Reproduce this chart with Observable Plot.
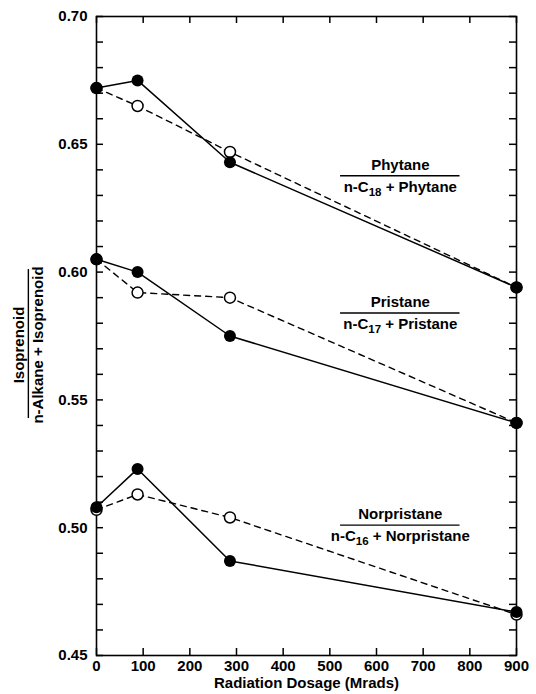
<!DOCTYPE html>
<html>
<head>
<meta charset="utf-8">
<script src="https://cdn.jsdelivr.net/npm/d3@7"></script>
<script src="https://cdn.jsdelivr.net/npm/@observablehq/plot@0.6"></script>
<style>
  html, body { margin: 0; padding: 0; background: #fff; }
  #chart svg { display: block; }
</style>
</head>
<body>
<div id="chart"></div>
<script>
// Radiation dose (Mrads) at which each sample was measured
const dose = [0, 88, 286, 900];

// Isoprenoid / (n-alkane + isoprenoid) ratios, solid line with filled circles
const phytaneSolid     = [0.672, 0.675, 0.643, 0.594];
const pristaneSolid    = [0.605, 0.600, 0.575, 0.541];
const norpristaneSolid = [0.508, 0.523, 0.487, 0.467];

// Same ratios, dashed line with open circles
const phytaneDashed     = [0.672, 0.665, 0.647, 0.594];
const pristaneDashed    = [0.605, 0.592, 0.590, 0.541];
const norpristaneDashed = [0.507, 0.513, 0.504, 0.466];

// Ratio labels: numerator compound and n-alkane carbon number
const ratioNames = ["Phytane", "Pristane", "Norpristane"];
const alkaneCarbons = ["18", "17", "16"];

// Axis ticks
const xTicks = [0, 100, 200, 300, 400, 500, 600, 700, 800, 900];
const yLabels = [0.45, 0.50, 0.55, 0.60, 0.65, 0.70];
const yMinor = d3.range(45, 71).map(d => d / 100);

const xTitle = "Radiation Dosage (Mrads)";
const yTitleTop = "Isoprenoid";
const yTitleBottom = "n-Alkane + Isoprenoid";

// Tidy rows for the marks
const series = [
  {ratio: "Phytane", run: "solid", values: phytaneSolid},
  {ratio: "Pristane", run: "solid", values: pristaneSolid},
  {ratio: "Norpristane", run: "solid", values: norpristaneSolid},
  {ratio: "Phytane", run: "dashed", values: phytaneDashed},
  {ratio: "Pristane", run: "dashed", values: pristaneDashed},
  {ratio: "Norpristane", run: "dashed", values: norpristaneDashed}
];
const rows = series.flatMap(s => s.values.map((v, i) => ({dose: dose[i], ratio: s.ratio, run: s.run, value: v})));
const solidRows = rows.filter(d => d.run === "solid");
const dashedRows = rows.filter(d => d.run === "dashed");

// Fraction labels placed beside each pair of curves (bar position in data units)
const labelBars = [0.6377, 0.584, 0.501];
const labels = ratioNames.map((name, i) => ({
  name,
  denom: `n-C${alkaneCarbons[i]} + ${name}`,
  bar: labelBars[i]
}));
const labelX = 651, barHalf = 128;

// plot area is 420 × 639 px; ticks are 7 px long and point inward
const tickLen = 7, frameW = 420, frameH = 639;

const chart = Plot.plot({
  width: 536,
  height: 694,
  marginTop: 16,
  marginLeft: 96,
  marginRight: 20,
  marginBottom: 39,
  style: {
    fontFamily: "'Liberation Sans', Arial, sans-serif",
    fontSize: "15px",
    fontWeight: "bold",
    color: "black",
    background: "white",
    overflow: "visible"
  },
  x: {domain: [0, 900], axis: null},
  y: {domain: [0.45, 0.70], axis: null},
  marks: [
    // inward ticks on all four sides
    Plot.tickY(yMinor, {y: d => d, insetRight: frameW - tickLen, stroke: "black", strokeWidth: 1.5}),
    Plot.tickY(yMinor, {y: d => d, insetLeft: frameW - tickLen, stroke: "black", strokeWidth: 1.5}),
    Plot.tickX(xTicks, {x: d => d, insetTop: frameH - tickLen, stroke: "black", strokeWidth: 1.5}),
    Plot.tickX(xTicks, {x: d => d, insetBottom: frameH - tickLen, stroke: "black", strokeWidth: 1.5}),
    // tick labels
    Plot.axisY(yLabels, {anchor: "left", tickSize: 0, tickPadding: 9, tickFormat: d3.format(".2f"), label: null}),
    Plot.axisX(xTicks, {anchor: "bottom", tickSize: 0, tickPadding: 5, tickFormat: d3.format("d"), label: null}),
    Plot.frame({stroke: "black", strokeWidth: 1.6}),

    // curves
    Plot.line(dashedRows, {x: "dose", y: "value", z: "ratio", stroke: "black", strokeWidth: 1.4, strokeDasharray: "6,5"}),
    Plot.line(solidRows, {x: "dose", y: "value", z: "ratio", stroke: "black", strokeWidth: 1.5}),
    Plot.dot(dashedRows, {x: "dose", y: "value", r: 5.5, fill: "white", stroke: "black", strokeWidth: 1.5}),
    Plot.dot(solidRows, {x: "dose", y: "value", r: 6, fill: "black", stroke: "none"}),

    // ratio labels drawn as fractions
    Plot.text(labels, {x: labelX, y: "bar", text: "name", dy: -11, fill: "black"}),
    Plot.text(labels, {x: labelX, y: "bar", text: "denom", dy: 11, fill: "black"}),
    Plot.ruleY(labels, {y: "bar", x1: labelX - barHalf, x2: labelX + barHalf, stroke: "black", strokeWidth: 1.4}),

    // axis titles
    Plot.text([xTitle], {frameAnchor: "bottom", dy: 32, fill: "black"}),
    Plot.text([yTitleTop], {frameAnchor: "left", textAnchor: "middle", rotate: -90, dx: -77, dy: 9, fill: "black"}),
    Plot.text([yTitleBottom], {frameAnchor: "left", textAnchor: "middle", rotate: -90, dx: -58, dy: 9, fill: "black"}),
    Plot.ruleX([-146], {x: d => d, y1: 0.5427, y2: 0.601, stroke: "black", strokeWidth: 1.4})
  ]
});

// Subscript the carbon numbers in the n-alkane labels
const NS = "http://www.w3.org/2000/svg";
chart.querySelectorAll("text").forEach(t => {
  const m = t.textContent.match(/^n-C(\d+)( \+ .+)$/);
  if (!m) return;
  t.textContent = "";
  const a = document.createElementNS(NS, "tspan");
  a.textContent = "n-C";
  const b = document.createElementNS(NS, "tspan");
  b.textContent = m[1];
  b.setAttribute("dy", "4");
  b.setAttribute("font-size", "11.5");
  const c = document.createElementNS(NS, "tspan");
  c.textContent = m[2];
  c.setAttribute("dy", "-4");
  t.append(a, b, c);
});

document.getElementById("chart").append(chart);
</script>
</body>
</html>
